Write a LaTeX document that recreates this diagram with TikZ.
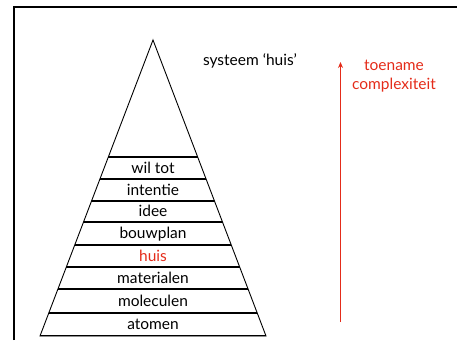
\documentclass[tikz,border=0pt]{standalone}
\usepackage{fontspec}
\setmainfont{Lato}
\usepackage{xcolor}
\usetikzlibrary{arrows.meta,positioning}
\definecolor{huisrood}{RGB}{228,44,26}

\begin{document}
\begin{tikzpicture}
        [ x=1pt, y=-1pt,
          every node/.style = {font=\fontsize{15.5}{18}\selectfont, inner sep=0pt},
          layer/.style = {anchor=base},
          red label/.style = {text=huisrood},
          frame line/.style = {line width=1.2pt},
          layer line/.style = {line width=1.2pt}]
        \useasboundingbox (0,0) rectangle (457,340);
        \draw[frame line] (14,340) -- (14,7) -- (457,7);
        % pyramide
        \coordinate (top) at (153,40);
        \coordinate (left) at (40,336);
        \coordinate (right) at (266,336);
        \begin{scope}
            \clip (top) -- (left) -- (right) -- cycle;
            \foreach \y in {157,179,201,222,245,267,289,313,336}
                \draw[layer line] (0,\y) -- (457,\y);
        \end{scope}
        \draw[line width=0.9pt, line join=miter] (top) -- (left) -- (right) -- cycle;
        \node[layer] (wiltot)     at (153,173) {wil tot};
        \node[layer] (intentie)   at (153,195) {intentie};
        \node[layer] (idee)       at (153,216) {idee};
        \node[layer] (bouwplan)   at (153,238) {bouwplan};
        \node[layer,red label] (huis) at (153,261) {huis};
        \node[layer] (materialen) at (153,283) {materialen};
        \node[layer] (moleculen)  at (153,306) {moleculen};
        \node[layer] (atomen)     at (153,329) {atomen};
        \node[layer] (systeem)    at (250,65) {systeem ‘huis’};
        % complexiteit
        \coordinate (laag) at (340.5,322);
        \coordinate (hoog) at (340.5,62);
        \draw[huisrood, line width=1.4pt, -{Stealth[length=6pt,width=5pt]}] (laag) -- (hoog);
        \node[layer,red label] (toename) at (394,70) {toename};
        \node[layer,red label] (complexiteit) at (394,89) {complexiteit};
    \end{tikzpicture}
\end{document}
